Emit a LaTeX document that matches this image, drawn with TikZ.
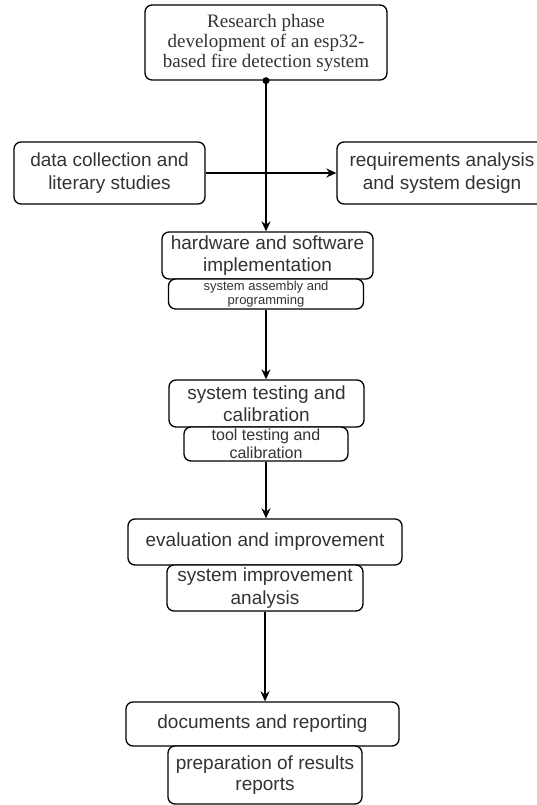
\documentclass[tikz,border=0pt]{standalone}
\usepackage{fontspec}
\setmainfont{Liberation Sans}
\newfontfamily\seriffont{Liberation Serif}
\usetikzlibrary{arrows.meta}
\definecolor{txt}{HTML}{333333}
\tikzset{
  box/.style={draw=black, line width=1.3pt, rounded corners=7pt, fill=white, text=txt, align=center, inner sep=0pt},
  conn/.style={draw=black, line width=1.4pt, -{Stealth[length=10pt,width=9pt]}}
}
\begin{document}
\begin{tikzpicture}[x=1pt,y=-1pt]
\useasboundingbox (0,0) rectangle (537,805);
\node[box, minimum width=242pt, minimum height=75pt, font=\seriffont\fontsize{19}{20}\selectfont] (top) at (266,42.5) {Research phase\\development of an esp32-\\based fire detection system};
\node[box, minimum width=191pt, minimum height=62pt, font=\fontsize{19}{23}\selectfont] (left) at (109.5,173) {data collection and\\literary studies};
\node[box, minimum width=210pt, minimum height=62pt, font=\fontsize{19}{23}\selectfont] (right) at (442,173) {requirements analysis\\and system design};
\node[box, minimum width=211pt, minimum height=47pt, font=\fontsize{19}{22}\selectfont] (hw) at (267.5,255.5) {hardware and software\\implementation};
\node[box, minimum width=195pt, minimum height=30pt, font=\fontsize{13}{14.5}\selectfont] (hwsub) at (266,294) {system assembly and\\programming};
\node[box, minimum width=195pt, minimum height=47pt, font=\fontsize{19}{22}\selectfont] (test) at (266.5,403.5) {system testing and\\calibration};
\node[box, minimum width=164pt, minimum height=34pt, font=\fontsize{16}{18}\selectfont] (testsub) at (266,444) {tool testing and\\calibration};
\node[box, minimum width=274pt, minimum height=46pt, font=\fontsize{19}{22}\selectfont] (eval) at (265,542) {evaluation and improvement};
\node[box, minimum width=196pt, minimum height=46pt, font=\fontsize{19}{23.5}\selectfont] (evalsub) at (265,588) {system improvement\\analysis};
\node[box, minimum width=273pt, minimum height=44pt, font=\fontsize{19}{22}\selectfont] (docs) at (262.5,724) {documents and reporting};
\node[box, minimum width=194pt, minimum height=58pt, font=\fontsize{19}{21}\selectfont] (docsub) at (265,775) {preparation of results\\reports};
\fill (top.south) circle (3.5pt);
\draw[conn] (top.south) -- (top.south |- hw.north);
\draw[conn] (left.east) -- (right.west);
\draw[conn] (hwsub.south) -- (hwsub.south |- test.north);
\draw[conn] (testsub.south) -- (testsub.south |- eval.north);
\draw[conn] (evalsub.south) -- (evalsub.south |- docs.north);
\end{tikzpicture}
\end{document}
